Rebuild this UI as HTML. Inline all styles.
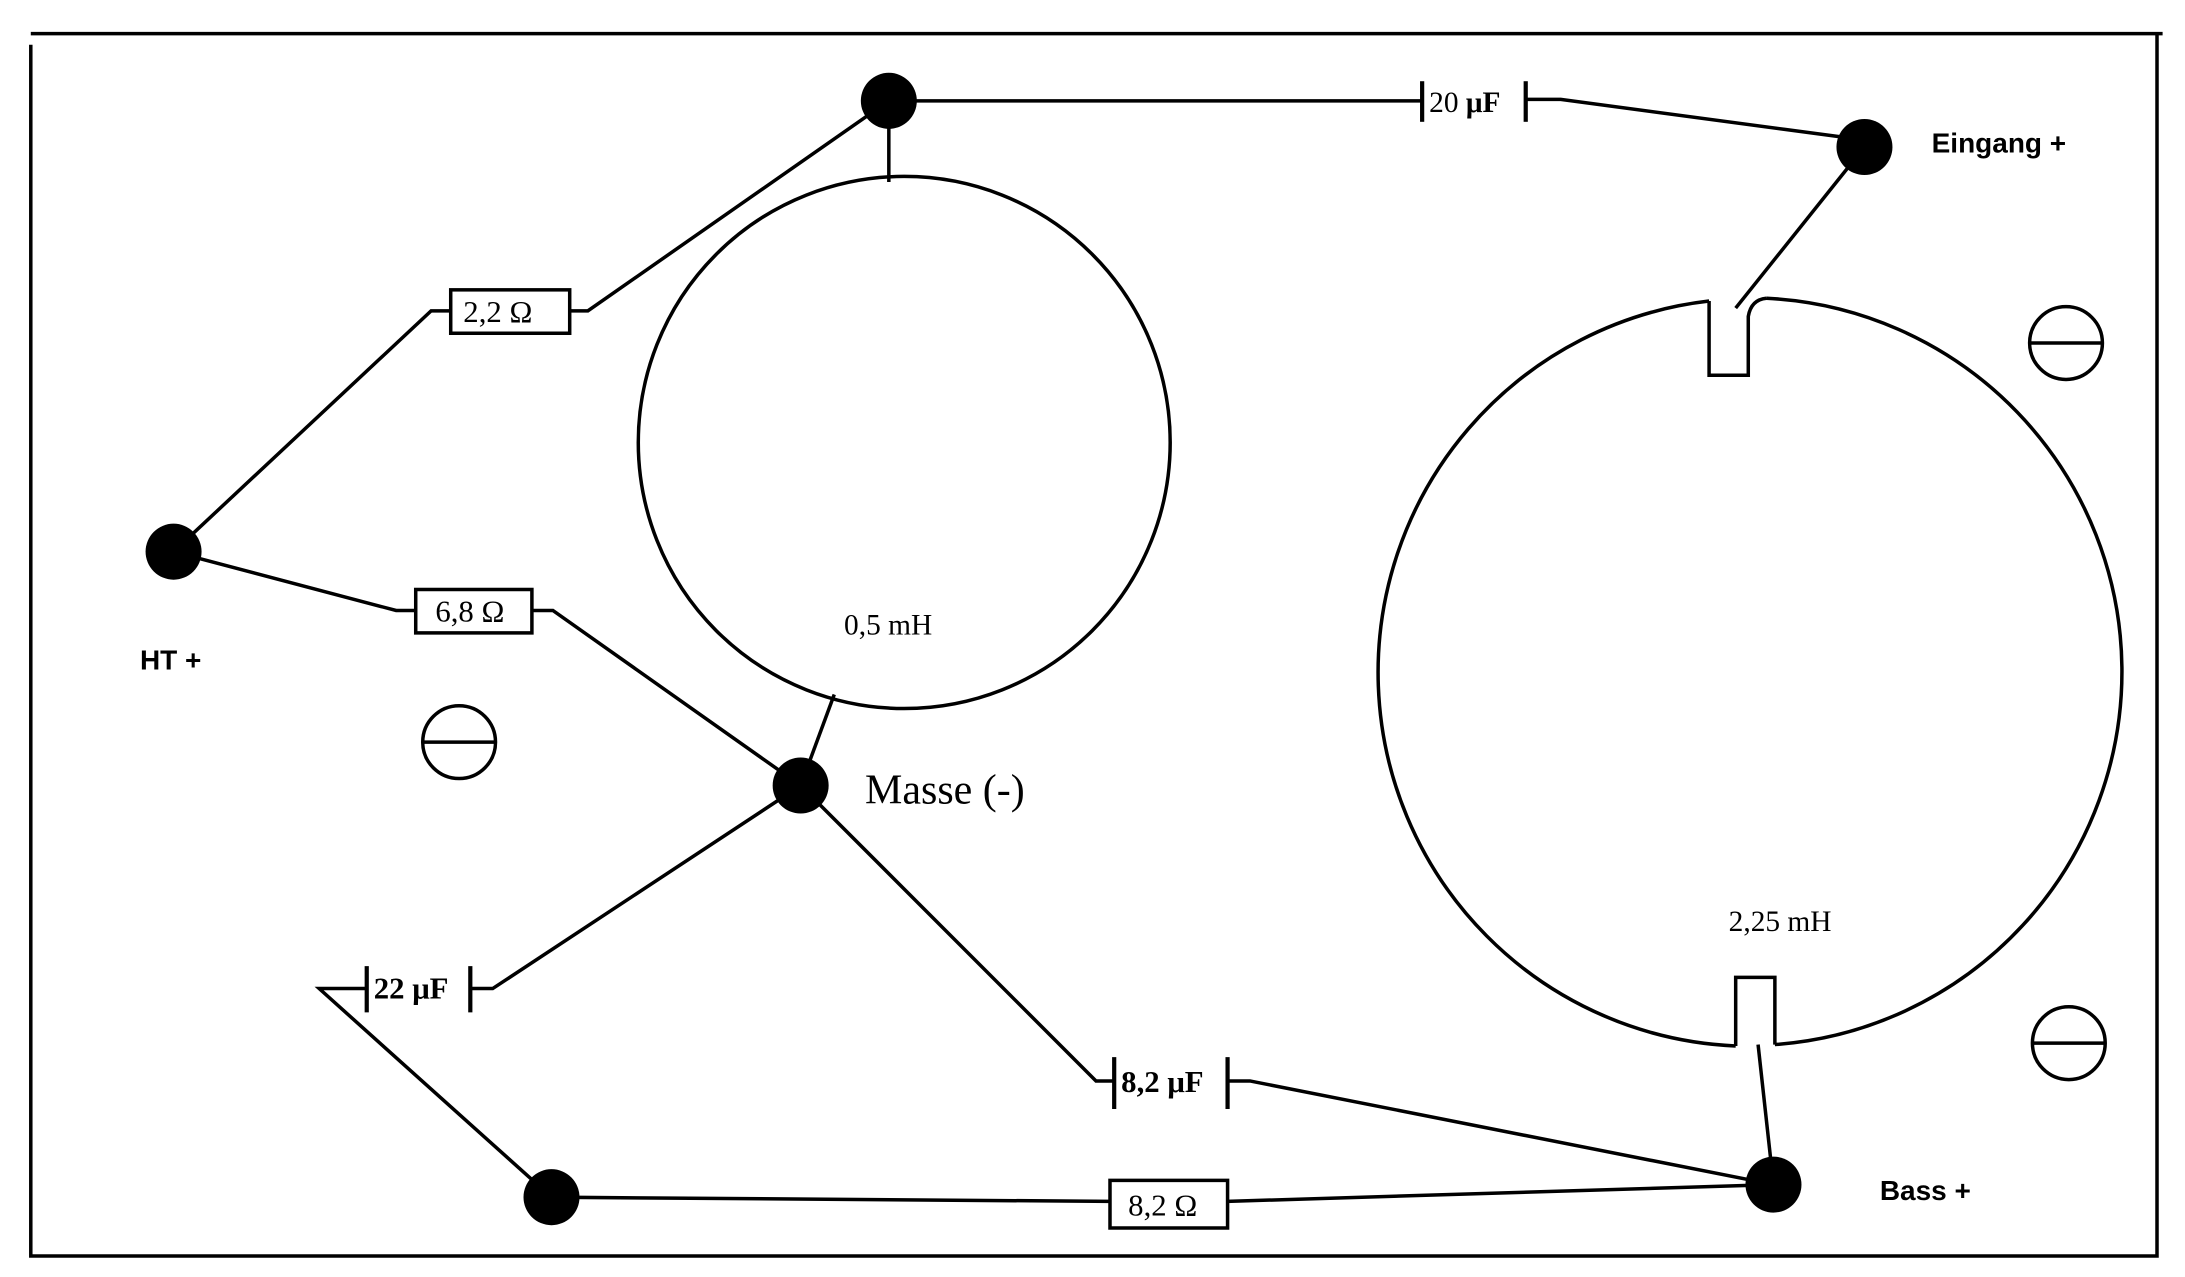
<!DOCTYPE html>
<html><head><meta charset="utf-8">
<style>
html,body{margin:0;padding:0;background:#fff;}
svg{display:block;}
.s{font-family:"Liberation Serif",serif;}
.b{font-family:"Liberation Sans",sans-serif;font-weight:bold;}
</style></head>
<body>
<svg width="2185" height="1277" viewBox="0 0 1561 912" preserveAspectRatio="none" xmlns="http://www.w3.org/2000/svg">
<g fill="none" stroke="#000" stroke-width="2.5">
<path d="M22,24 L1545,24 M22,32 L22,897 L1541,897 L1541,24"/>
<line x1="635" y1="72" x2="1015" y2="72"/>
<line x1="1016" y1="58" x2="1016" y2="87" stroke-width="3"/>
<line x1="1090" y1="58" x2="1090" y2="87" stroke-width="3"/>
<polyline points="1090,71 1115,71 1332,100"/>
<line x1="635" y1="72" x2="635" y2="130"/>
<circle cx="646" cy="316" r="190"/>
<polyline points="635,72 420,222 407,222"/>
<rect x="322" y="207" width="85" height="31"/>
<polyline points="322,222 308,222 124,394"/>
<polyline points="124,394 283,436 297,436"/>
<rect x="297" y="421" width="83" height="31"/>
<polyline points="380,436 395,436 572,561"/>
<line x1="572" y1="561" x2="596" y2="496"/>
<polyline points="572,561 352,706 336,706"/>
<line x1="336" y1="690" x2="336" y2="723" stroke-width="3"/>
<line x1="262" y1="690" x2="262" y2="723" stroke-width="3"/>
<polyline points="262,706 228,706 394,855"/>
<polyline points="572,561 783,772 796,772"/>
<line x1="796" y1="755" x2="796" y2="792" stroke-width="3"/>
<line x1="877" y1="755" x2="877" y2="792" stroke-width="3"/>
<polyline points="877,772 893,772 1267,846"/>
<line x1="394" y1="855" x2="793" y2="858"/>
<rect x="793" y="843" width="84" height="34"/>
<line x1="877" y1="858" x2="1267" y2="846"/>
<path d="M1221,215 A267,267 0 0 0 1240,747 M1268,746 A267,267 0 0 0 1262,213"/>
<path d="M1221,215 L1221,268 L1249,268 L1249,226 Q1251,214 1262,213" />
<path d="M1240,747 L1240,698 L1268,698 L1268,746" />
<line x1="1240" y1="220" x2="1332" y2="105"/>
<line x1="1256" y1="746" x2="1267" y2="846"/>
<circle cx="328" cy="530" r="26"/><line x1="302" y1="530" x2="354" y2="530"/>
<circle cx="1476" cy="245" r="26"/><line x1="1450" y1="245" x2="1502" y2="245"/>
<circle cx="1478" cy="745" r="26"/><line x1="1452" y1="745" x2="1504" y2="745"/>
</g>
<g fill="#000">
<circle cx="635" cy="72" r="20"/>
<circle cx="1332" cy="105" r="20"/>
<circle cx="124" cy="394" r="20"/>
<circle cx="572" cy="561" r="20"/>
<circle cx="394" cy="855" r="20"/>
<circle cx="1267" cy="846" r="20"/>
</g>
<g fill="#000">
<text class="s" x="1021" y="80" font-size="21">20 <tspan font-weight="bold">μF</tspan></text>
<text class="s" x="331" y="230" font-size="22">2,2 Ω</text>
<text class="s" x="311" y="444" font-size="22">6,8 Ω</text>
<text class="s" x="806" y="868" font-size="22">8,2 Ω</text>
<text class="s" x="267" y="713" font-size="22" font-weight="bold">22 μF</text>
<text class="s" x="801" y="780" font-size="22" font-weight="bold">8,2 μF</text>
<text class="s" x="603" y="453" font-size="21">0,5 mH</text>
<text class="s" x="1235" y="665" font-size="21">2,25 mH</text>
<text class="s" x="618" y="574" font-size="30">Masse (-)</text>
<text class="b" x="1380" y="109" font-size="20">Eingang +</text>
<text class="b" x="100" y="478" font-size="20">HT +</text>
<text class="b" x="1343" y="857" font-size="20">Bass +</text>
</g>
</svg>
</body></html>
